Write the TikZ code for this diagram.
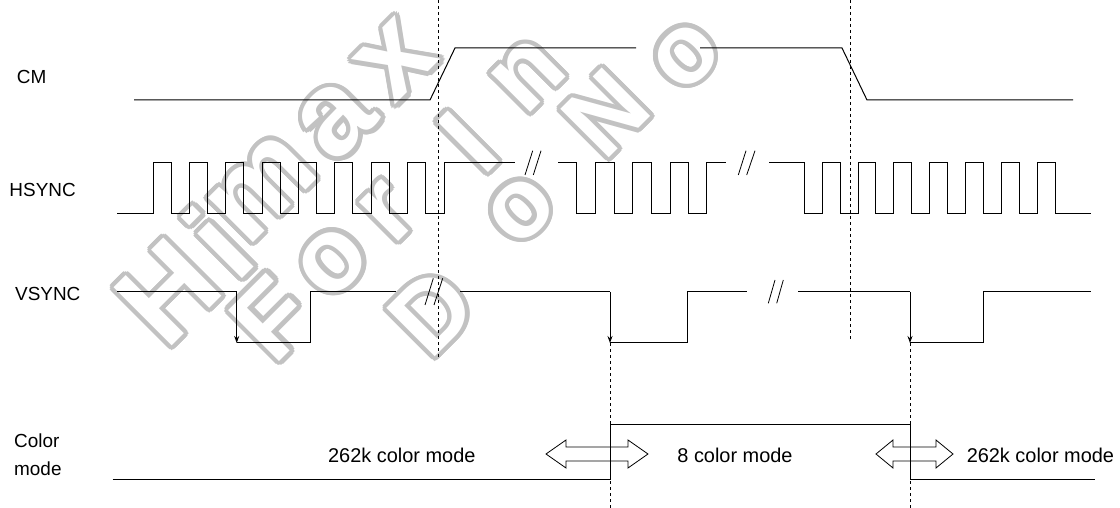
\documentclass[tikz,border=0pt]{standalone}
\usepackage{fontspec}
\setmainfont{Liberation Sans}
\usetikzlibrary{arrows.meta}
\definecolor{wmgrey}{RGB}{194,194,194}
\newcommand\WmGlyph[4]{% x, y, size, text
  \foreach \ang in {0,22.5,...,337.5} {
    \node[wm, text=wmgrey, font=\fontsize{#3}{#3}\selectfont\bfseries] at ([shift={(\ang:4.5)}] #1,#2) {#4};}
  \node[wm, text=white, font=\fontsize{#3}{#3}\selectfont\bfseries] at (#1,#2) {#4};}
\begin{document}
\begin{tikzpicture}[x=1bp,y=-1bp,
  wm/.style={rotate=45, inner sep=0pt},
  wave/.style={line width=1bp, line join=miter},
  guide/.style={line width=0.8bp, dash pattern=on 3bp off 3bp},
  brk/.style={line width=0.8bp},
  lbl/.style={font=\fontsize{19}{23}\selectfont, inner sep=0pt, anchor=west},
  modetxt/.style={font=\fontsize{20}{24}\selectfont, inner sep=0pt},
  fallarrow/.style={wave, -{Stealth[length=7bp,width=5bp]}},
  dblarr/.style={line width=0.8bp, line join=miter}
]
\path[use as bounding box] (0,0) rectangle (1120,508);
\clip (0,0) rectangle (1120,508);

% watermark
\WmGlyph{168}{292}{120}{H}
\WmGlyph{218}{242}{120}{i}
\WmGlyph{262}{188}{120}{m}
\WmGlyph{336}{120}{120}{a}
\WmGlyph{396}{60}{120}{x}
\WmGlyph{272}{318}{105}{F}
\WmGlyph{333}{262}{105}{o}
\WmGlyph{388}{212}{105}{r}
\WmGlyph{468}{142}{105}{I}
\WmGlyph{528}{75}{105}{n}
\WmGlyph{432}{312}{100}{D}
\WmGlyph{521}{210}{100}{o}
\WmGlyph{606}{113}{100}{N}
\WmGlyph{686}{56}{100}{o}

% labels
\node[lbl] (lcm) at (16.7,76.7) {CM};
\node[lbl] (lhs) at (9.3,190) {HSYNC};
\node[lbl] (lvs) at (15,294.3) {VSYNC};
\node[lbl] (lc1) at (14,441) {Color};
\node[lbl] (lc2) at (14,469) {mode};

% guide lines
\draw[guide] (438,0) -- (438,357);
\draw[guide] (850,0) -- (850,342);
\draw[guide] (610,343) -- (610,508);
\draw[guide] (910,343) -- (910,508);

% CM
\draw[wave] (134,100) -- (430,100) -- (455,48) -- (636,48);
\draw[wave] (700,48) -- (842,48) -- (867,100) -- (1073,100);

% HSYNC
\draw[wave] (117,214) foreach \i in {0,...,7} {
  -- ({153.3+36.33*\i},214) -- ({153.3+36.33*\i},163)
  -- ({171.3+36.33*\i},163) -- ({171.3+36.33*\i},214) }
  -- (444,214) -- (444,163) -- (515,163);
\draw[wave] (558,163) -- (576.7,163) -- (576.7,214) -- (595.7,214) -- (595.7,163)
  -- (614,163) -- (614,214) -- (632.7,214) -- (632.7,163)
  -- (651,163) -- (651,214) -- (670,214) -- (670,163)
  -- (688.3,163) -- (688.3,214) -- (706.7,214) -- (706.7,163) -- (726,163);
\draw[wave] (769,163) foreach \i in {0,...,6} {
  -- ({804.3+35.8*\i},163) -- ({804.3+35.8*\i},214)
  -- ({822.3+35.8*\i},214) -- ({822.3+35.8*\i},163) }
  -- (1055,163) -- (1055,214) -- (1090.7,214);
% HSYNC breaks
\draw[brk] (525,175) -- (532.7,150.7);
\draw[brk] (533.3,175) -- (541,150.7);
\draw[brk] (738.3,175) -- (746,150.7);
\draw[brk] (746.7,175) -- (755,150.7);

% VSYNC
\draw[wave] (117,292) -- (236.7,292);
\draw[fallarrow] (236.7,292) -- (236.7,343);
\draw[wave] (236.7,343) -- (310,343) -- (310,292) -- (395.7,292);
\draw[wave] (460,292) -- (610,292);
\draw[fallarrow] (610,292) -- (610,343);
\draw[wave] (610,343) -- (687.3,343) -- (687.3,292) -- (747.3,292);
\draw[wave] (798.3,292) -- (910,292);
\draw[fallarrow] (910,292) -- (910,343);
\draw[wave] (910,343) -- (983.3,343) -- (983.3,292) -- (1090.7,292);
% VSYNC breaks
\draw[brk] (425,305) -- (433.3,278.3);
\draw[brk] (434,305) -- (442.7,278.3);
\draw[brk] (768.3,303.3) -- (775,280);
\draw[brk] (776.7,303.3) -- (783.3,280);

% Color mode
\draw[wave] (112.5,479) -- (610,479) -- (610,424) -- (910,424) -- (910,479) -- (1094.6,479);

\node[modetxt] (m1) at (401.8,455) {262k color mode};
\node[modetxt] (m2) at (735,455) {8 color mode};
\node[modetxt] (m3) at (1040.4,455) {262k color mode};

% double arrows
\draw[dblarr] (546,454) -- (566,440) -- (566,447) -- (628,447) -- (628,440) -- (648,454)
  -- (628,468) -- (628,461) -- (566,461) -- (566,468) -- cycle;
\draw[dblarr] (876,454) -- (893,440) -- (893,447) -- (936,447) -- (936,440) -- (953,454)
  -- (936,468) -- (936,461) -- (893,461) -- (893,468) -- cycle;
\end{tikzpicture}
\end{document}
